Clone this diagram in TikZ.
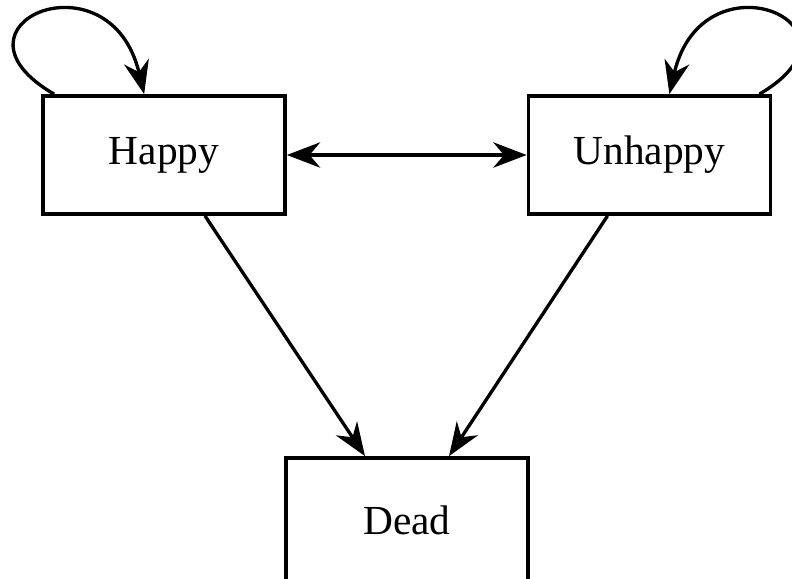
\documentclass[tikz,border=0pt]{standalone}
\usepackage{fontspec}
\setmainfont{Liberation Serif}
\usetikzlibrary{arrows.meta}
\usetikzlibrary{calc,positioning}

\tikzset{
  state/.style={draw, line width=2.8pt, minimum width=242pt*0.75, minimum height=118pt*0.75,
    font=\fontsize{31}{36}\selectfont},
  trans/.style={line width=2.5pt}
}

\begin{document}
\begin{tikzpicture}[>={Stealth[length=25pt,width=19pt,inset=8pt]}, x=0.75pt, y=-0.75pt]

    \useasboundingbox (0,0) rectangle (792,578);

    \node[state] (happy) at (164,155) {Happy};
    \node[state] (unhappy) at (649.5,155) {Unhappy};
    \node[state, minimum height=126pt*0.75] (dead) at (407,521) {\raisebox{2pt}{Dead}};

    \draw[trans, <->] (happy) -- (unhappy);
    \draw[trans, ->] ([xshift=41*0.75pt]happy.south) -- ([xshift=-42*0.75pt]dead.north);
    \draw[trans, ->] ([xshift=-42*0.75pt]unhappy.south) -- ([xshift=42*0.75pt]dead.north);

    % self loops
    \draw[trans, ->] ([xshift=13*0.75pt]happy.north west) .. controls (-65,25) and (110,-50) .. ([xshift=103*0.75pt]happy.north west);
    \draw[trans, ->] ([xshift=-13*0.75pt]unhappy.north east) .. controls (878,25) and (703,-50) .. ([xshift=-103*0.75pt]unhappy.north east);

\end{tikzpicture}
\end{document}
